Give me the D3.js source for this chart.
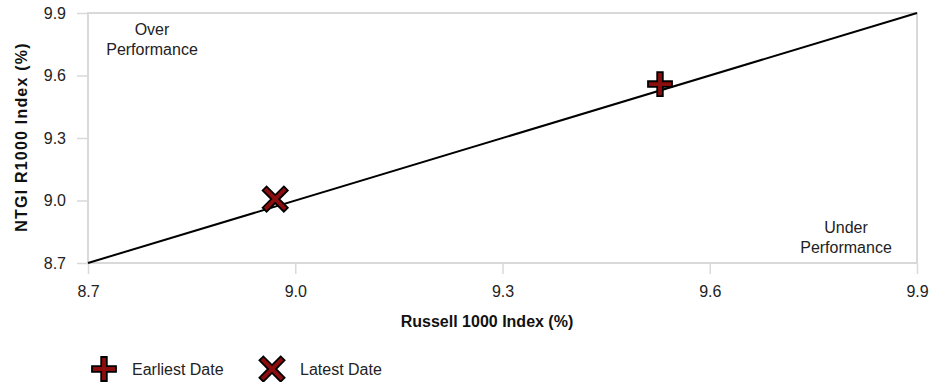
<!DOCTYPE html>
<html><head><meta charset="utf-8">
<script src="https://cdn.jsdelivr.net/npm/d3@7"></script>
<style>body{margin:0;background:#fff;}svg{display:block;font-family:"Liberation Sans",Arial,sans-serif;}</style>
</head><body><svg id="c" width="930" height="382"></svg>
<script>
const seriesNames = ["Earliest Date", "Latest Date"];
const xValues = [9.528, 8.971];
const yValues = [9.559, 9.007];
const xTicks = [8.7, 9.0, 9.3, 9.6, 9.9];
const yTicks = [8.7, 9.0, 9.3, 9.6, 9.9];
const lineStart = [8.7, 8.7];
const lineEnd = [9.9, 9.9];

const FONT = "Liberation Sans, Arial, sans-serif";
const svg = d3.select("#c");
const m = {l:88, r:917, t:13, b:263};
const x = d3.scaleLinear().domain([8.7, 9.9]).range([m.l, m.r]);
const y = d3.scaleLinear().domain([8.7, 9.9]).range([m.b, m.t]);

const yAx = svg.append("g").attr("transform",`translate(${m.l},0)`)
  .call(d3.axisLeft(y).tickValues(yTicks).tickFormat(d3.format(".1f")).tickSize(11).tickPadding(11));
yAx.select(".domain").remove();
yAx.selectAll("line").attr("stroke","#d9d9d9").attr("stroke-width",1.5);
yAx.selectAll("text").attr("font-size",16).attr("fill","#222").style("font-family",FONT);

const xAx = svg.append("g").attr("transform",`translate(0,${m.b})`)
  .call(d3.axisBottom(x).tickValues(xTicks).tickFormat(d3.format(".1f")).tickSize(11).tickPadding(11.5));
xAx.select(".domain").remove();
xAx.selectAll("line").attr("stroke","#d9d9d9").attr("stroke-width",1.5);
xAx.selectAll("text").attr("font-size",16).attr("fill","#222").style("font-family",FONT);

svg.append("rect").attr("x", m.l).attr("y", m.t).attr("width", m.r-m.l).attr("height", m.b-m.t)
  .attr("fill","none").attr("stroke","#d9d9d9").attr("stroke-width",2);

svg.append("line").attr("x1",x(lineStart[0])).attr("y1",y(lineStart[1]))
  .attr("x2",x(lineEnd[0])).attr("y2",y(lineEnd[1])).attr("stroke","#000").attr("stroke-width",2);

svg.append("text").attr("x",487).attr("y",327).attr("text-anchor","middle")
  .attr("font-size",16).attr("font-weight","bold").attr("fill","#111").text("Russell 1000 Index (%)");
svg.append("text").attr("transform",`translate(27,137) rotate(-90)`).attr("text-anchor","middle")
  .attr("font-size",16).attr("font-weight","bold").attr("letter-spacing",1.2).attr("fill","#111").text("NTGI R1000 Index (%)");

function ann(cx, y0, lines){
  const t = svg.append("text").attr("text-anchor","middle").attr("font-size",16).attr("fill","#222");
  lines.forEach((s,i)=>t.append("tspan").attr("x",cx).attr("y",y0+i*20).text(s));
}
ann(152, 35, ["Over","Performance"]);
ann(846, 233, ["Under","Performance"]);

const W = 2.8;
function crossPath(L){ return `M${-W},${-L}H${W}V${-W}H${L}V${W}H${W}V${L}H${-W}V${W}H${-L}V${-W}H${-W}Z`; }
const shapes = [crossPath(12), crossPath(15)];
const rot = [0, 45];
const markerFill = "#8b0d0d";

function marker(g, i){
  g.append("path").attr("d", shapes[i]).attr("transform",`rotate(${rot[i]})`)
    .attr("fill", markerFill).attr("stroke","#000").attr("stroke-width",1.8).attr("stroke-linejoin","miter");
}

svg.selectAll(".pt").data(seriesNames).enter().append("g").attr("class","pt")
  .attr("transform",(d,i)=>`translate(${x(xValues[i])},${y(yValues[i])})`)
  .each(function(d,i){ marker(d3.select(this), i); });

const legX = [104, 272];
seriesNames.forEach((s,i)=>{
  const g = svg.append("g").attr("transform",`translate(${legX[i]},369)`);
  marker(g, i);
  svg.append("text").attr("x",legX[i]+28).attr("y",375).attr("font-size",16).attr("fill","#222").text(s);
});
</script></body></html>
